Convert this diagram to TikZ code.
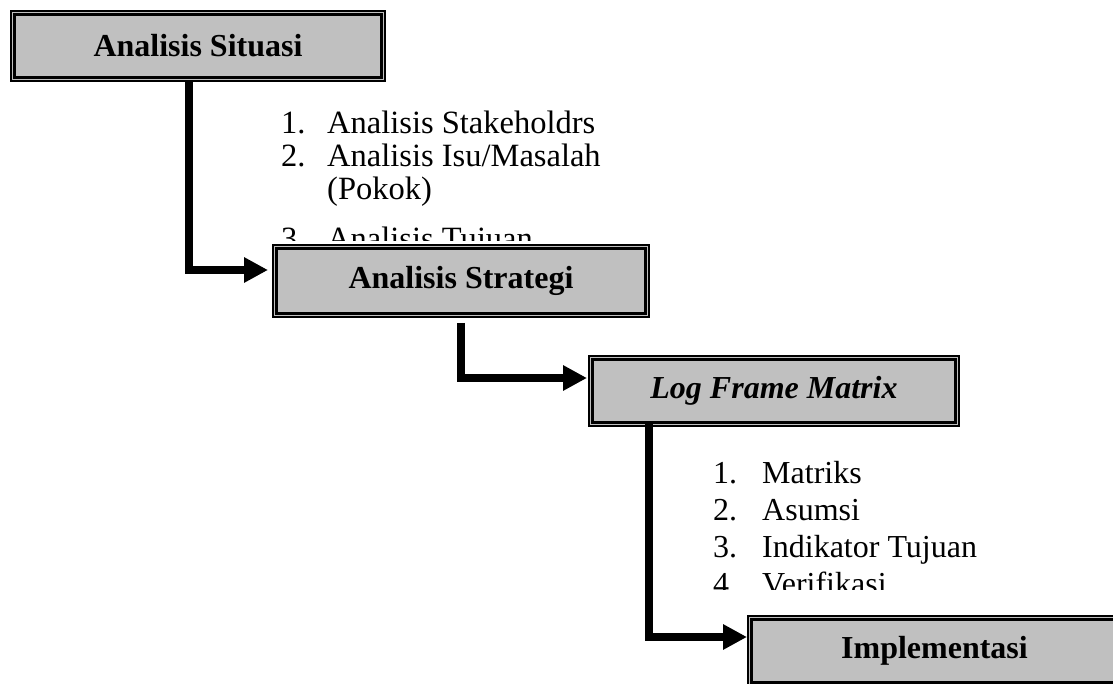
\documentclass[tikz,border=0pt]{standalone}
\usepackage{fontspec}
\setmainfont{Liberation Serif}
\usepackage{xcolor}
\usepackage{tikz}
\usetikzlibrary{arrows.meta,calc}

\definecolor{boxgray}{RGB}{192,192,192}

\begin{document}
\begin{tikzpicture}[
    x=1pt, y=1pt,
    >={Triangle[length=24pt,width=24pt]},
    stage/.style={rectangle, draw, line width=2pt, fill=boxgray, font=\fontsize{32}{38}\selectfont\bfseries},
    innerline/.style={line width=3pt},
    flow/.style={->, line width=7.5pt},
    item/.style={anchor=base west, inner sep=0pt, font=\fontsize{32.5}{38}\selectfont}
]
\useasboundingbox (0,0) rectangle (1113,-684);
\clip (0,0) rectangle (1113,-684);

% === Stages ===
\node[stage, minimum width=374pt, minimum height=70pt] (situasi) at (198,-46) {Analisis Situasi};
\node[stage, minimum width=376pt, minimum height=72pt] (strategi) at (461,-281) {Analisis Strategi};
\node[stage, minimum width=370pt, minimum height=70pt] (logframe) at (774,-391) {\itshape Log Frame Matrix};
\node[stage, minimum width=373pt, minimum height=70pt] (impl) at (934.5,-651) {Implementasi};

% inner frame of every stage
\foreach \n in {situasi,strategi,logframe,impl} {
    \draw[innerline] ([shift={(4.5pt,-4.5pt)}]\n.north west) rectangle ([shift={(-4.5pt,4.5pt)}]\n.south east);
}

% === Steps of the situation analysis ===
\begin{scope}
\clip (270,-90) rectangle (700,-241);
\node[item] (sitnum1) at (281,-134) {1.};
\node[item] (sittxt1) at (327,-134) {Analisis Stakeholdrs};
\node[item] (sitnum2) at (281,-167) {2.};
\node[item] (sittxt2) at (327,-167) {Analisis Isu/Masalah};
\node[item] (sittxt2b) at (327,-200) {(Pokok)};
\node[item] (sitnum3) at (281,-250) {3.};
\node[item] (sittxt3) at (327,-250) {Analisis Tujuan};
\end{scope}

% === Parts of the log frame ===
\begin{scope}
\clip (700,-440) rectangle (1100,-589);
\node[item, font=\fontsize{32}{38}\selectfont] (lfnum1) at (713,-483) {1.};
\node[item, font=\fontsize{32}{38}\selectfont] (lftxt1) at (762,-483) {Matriks};
\node[item, font=\fontsize{32}{38}\selectfont] (lfnum2) at (713,-520) {2.};
\node[item, font=\fontsize{32}{38}\selectfont] (lftxt2) at (762,-520) {Asumsi};
\node[item, font=\fontsize{32}{38}\selectfont] (lfnum3) at (713,-557) {3.};
\node[item, font=\fontsize{32}{38}\selectfont] (lftxt3) at (762,-557) {Indikator Tujuan};
\node[item, font=\fontsize{32}{38}\selectfont] (lfnum4) at (713,-594) {4.};
\node[item, font=\fontsize{32}{38}\selectfont] (lftxt4) at (762,-594) {Verifikasi};
\end{scope}

% === Arrows ===
\coordinate (bend1) at (189,-270);
\coordinate (bend2) at (461,-378);
\coordinate (bend3) at (649,-637);
\draw[flow, shorten >=4pt] (situasi.south -| bend1) -- (bend1) -- (strategi.west |- bend1);
\draw[flow, shorten >=1pt] ([yshift=-5pt]strategi.south) -- (bend2) -- (logframe.west |- bend2);
\draw[flow, shorten >=0pt] ([yshift=4pt]logframe.south -| bend3) -- (bend3) -- (impl.west |- bend3);
\end{tikzpicture}
\end{document}
